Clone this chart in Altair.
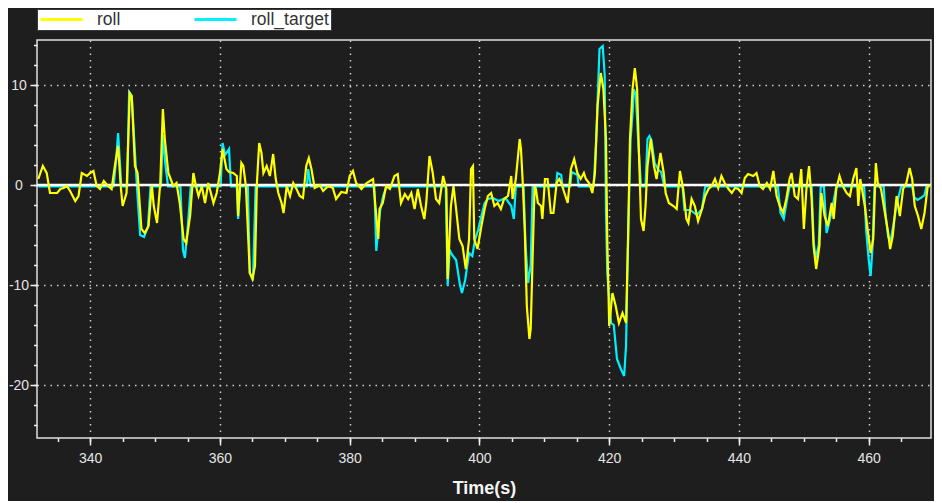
import altair as alt
import pandas as pd

# ---- data ----
roll_t = [332.0, 332.7, 333.3, 333.8, 334.9, 335.4, 335.9, 336.4, 336.9, 337.7, 338.2, 338.7, 339.5, 340.0,
          340.5, 341.0, 341.5, 342.1, 342.6, 343.3, 343.8, 344.3, 344.7, 345.0, 345.6, 346.1, 346.4, 346.9,
          347.3, 347.9, 348.4, 349.0, 349.5, 349.8, 350.3, 350.8, 351.2, 351.5, 352.05, 352.8, 353.3, 353.8,
          354.4, 354.8, 355.4, 355.9, 356.3, 356.7, 357.2, 357.7, 358.2, 359.0, 359.5, 360.0, 360.4, 361.0,
          361.4, 362.05, 362.6, 362.8, 363.3, 363.6, 364.0, 364.6, 365.0, 365.4, 365.7, 366.05, 366.4, 366.7,
          367.2, 367.7, 368.2, 368.6, 369.0, 369.5, 369.8, 370.3, 370.8, 371.3, 371.8, 372.3, 372.8, 373.3,
          373.7, 374.1, 374.6, 375.4, 375.9, 376.7, 377.4, 377.9, 378.7, 379.5, 380.0, 380.5, 381.0, 381.8,
          382.6, 383.6, 384.1, 384.4, 384.6, 385.1, 385.6, 386.2, 386.9, 387.4, 387.9, 388.5, 389.0, 389.5,
          390.0, 390.5, 391.0, 391.5, 391.8, 392.3, 392.8, 393.3, 393.8, 394.4, 394.9, 395.1, 395.6, 396.0,
          396.4, 396.9, 397.4, 397.9, 398.4, 398.7, 399.0, 399.2, 399.7, 400.3, 400.8, 401.3, 401.8, 402.3,
          402.8, 403.3, 403.8, 404.4, 404.9, 405.1, 405.6, 406.2, 406.4, 406.7, 407.0, 407.3, 407.7, 407.9,
          408.2, 408.5, 408.7, 409.0, 409.5, 409.7, 410.1, 410.5, 411.0, 411.4, 411.9, 412.3, 412.6, 413.1,
          413.6, 414.1, 414.6, 415.1, 415.6, 416.1, 416.4, 416.9, 417.4, 417.8, 418.2, 418.7, 419.1, 419.5,
          419.7, 420.0, 420.5, 421.0, 421.5, 422.05, 422.6, 422.9, 423.2, 423.6, 423.95, 424.3, 424.6, 424.9,
          425.3, 425.6, 425.9, 426.4, 426.9, 427.3, 427.9, 428.4, 428.7, 429.2, 429.9, 430.4, 430.9, 431.4,
          431.9, 432.2, 432.7, 433.2, 433.7, 434.3, 434.8, 435.3, 435.8, 436.3, 436.8, 437.3, 437.8, 438.4,
          438.9, 439.4, 439.9, 440.4, 440.9, 441.4, 442.2, 442.7, 443.2, 443.7, 444.3, 444.8, 445.3, 445.8,
          446.3, 446.8, 447.3, 447.8, 448.1, 448.6, 449.1, 449.6, 450.0, 450.4, 450.8, 451.2, 451.5, 451.9,
          452.4, 452.7, 453.2, 453.7, 454.3, 454.6, 455.0, 455.5, 456.0, 456.6, 457.1, 457.6, 458.1, 458.4,
          458.7, 459.4, 459.9, 460.3, 460.7, 461.1, 461.4, 461.9, 462.5, 463.0, 463.3, 463.7, 464.3, 464.8,
          465.3, 465.8, 466.3, 466.7, 467.1, 467.6, 468.1, 468.6, 469.1, 469.5]
roll_v = [0.6, 1.9, 1.2, -0.8, -0.8, -0.4, -0.3, -0.1, -0.6, -1.6, -1.1, 1.2, 0.9, 1.2,
          1.4, -0.1, -0.4, 0.4, 0.0, -0.4, 1.9, 3.9, -0.1, -2.1, -0.8, 9.2, 8.9, 1.9,
          1.2, -4.4, -4.8, -4.1, 0.0, -2.1, -3.8, 0.2, 7.6, 4.6, 1.2, -0.1, 0.2, -1.8,
          -5.4, -5.8, -3.1, 1.2, -0.1, -1.1, -0.1, -1.8, 0.2, -1.8, -0.8, 1.2, 3.6, 1.6,
          1.3, 1.2, 0.9, -3.1, 2.2, 1.9, -0.1, -8.8, -9.4, -8.1, 0.2, 4.2, 3.2, 1.2,
          1.9, 0.9, 3.1, 0.6, -0.8, -1.8, -2.8, -0.1, -1.1, 0.2, -0.4, -1.1, -1.3, 1.9,
          2.7, 1.6, -0.3, 0.0, -0.6, -0.1, -0.3, -1.4, -0.7, -0.8, 0.9, 1.4, 0.2, -0.4,
          0.2, 0.6, -3.1, -5.4, -2.4, -1.8, -0.1, -0.4, 0.9, 1.1, -1.8, -0.9, -1.4, -0.8,
          -2.4, -0.4, -2.1, -3.4, -1.8, 2.9, 1.2, -1.4, -1.8, 0.9, -0.4, -9.4, -2.1, -0.1,
          -2.4, -5.4, -6.1, -8.4, -5.4, 1.6, 1.9, -5.4, -6.4, -4.1, -2.4, -1.1, -0.8, -2.1,
          -1.8, -2.4, -1.4, -1.1, 0.9, -1.4, 0.6, 4.6, 3.6, -0.1, -4.8, -12.1, -15.4, -14.4,
          -7.1, -0.1, -0.4, -1.8, -2.1, -3.4, 0.6, 0.6, -2.8, -2.8, 0.2, 0.6, 0.2, -0.8,
          -1.8, 1.6, 2.6, 1.2, 0.6, 1.2, 0.6, 0.2, -0.8, 1.2, 7.9, 11.2, 9.6, 4.6,
          -5.4, -14.1, -10.8, -12.1, -13.8, -12.8, -13.8, -5.4, 4.6, 9.6, 11.7, 9.6, 2.9, -3.4,
          -4.6, -2.1, 1.9, 4.6, 1.9, 0.6, 3.2, 1.2, -0.8, -1.8, -2.1, -2.4, 1.4, -0.4,
          -3.4, -3.8, -1.4, -2.1, -3.6, -2.4, -1.1, -0.4, -0.1, 0.6, -0.3, 0.9, 0.2, -0.4,
          -0.8, -0.3, -0.4, -0.8, 0.7, 1.1, 0.9, 1.2, -0.1, -0.4, 0.2, -0.4, 1.4, -1.1,
          -2.1, -2.8, -1.4, 0.6, 1.2, -1.1, -1.4, 1.6, -4.4, -0.4, 1.9, -1.4, -6.1, -8.4,
          -6.1, -0.8, -3.1, -4.1, -1.8, -3.4, -0.4, 0.9, -0.1, -0.8, -1.1, 0.6, 1.7, -2.1,
          0.6, -2.1, -4.8, -6.8, -5.4, 2.2, 0.2, -0.4, -2.8, -4.8, -6.4, -5.1, -1.1, -3.1,
          -0.4, 0.2, 1.7, 0.6, -2.1, -3.1, -4.4, -2.8, -0.1, 0.0]

target_t = [332.0, 343.6, 344.0, 344.3, 344.6, 344.8, 345.7, 346.0, 346.4, 347.2, 347.7, 348.3, 348.9,
            349.3, 350.9, 351.2, 351.6, 352.0, 353.9, 354.3, 354.6, 355.0, 355.5, 360.1, 360.4, 360.8,
            361.4, 361.7, 362.6, 362.8, 363.1, 364.3, 364.6, 365.1, 365.5, 373.4, 373.6, 374.0, 383.8,
            384.1, 384.4, 384.7, 385.2, 385.7, 394.8, 395.1, 395.4, 395.8, 396.4, 397.0, 397.3, 397.8,
            398.4, 398.9, 399.3, 399.8, 400.3, 400.8, 401.3, 402.0, 403.0, 404.0, 404.9, 405.3, 405.6,
            406.8, 407.1, 407.5, 407.9, 408.2, 411.8, 412.0, 412.6, 412.8, 414.0, 414.2, 415.1, 415.3,
            417.6, 418.0, 418.5, 419.0, 419.3, 419.5, 419.7, 420.3, 420.7, 421.2, 421.8, 422.3, 422.6,
            422.8, 423.1, 423.3, 423.6, 423.8, 424.1, 424.5, 424.9, 425.6, 425.9, 426.2, 426.5, 427.0,
            427.6, 428.0, 428.5, 431.3, 431.6, 432.5, 433.5, 434.3, 434.8, 446.0, 446.4, 446.9, 447.4,
            447.8, 451.2, 451.5, 451.8, 452.3, 452.6, 453.1, 453.5, 454.0, 454.5, 455.0, 459.3, 459.6,
            460.0, 460.3, 460.6, 460.9, 462.3, 462.6, 463.0, 463.4, 463.8, 464.3, 465.0, 466.7, 467.0,
            467.5, 468.0, 468.6, 468.9, 469.5]
target_v = [-0.15, -0.15, 2.5, 5.2, 2.0, -0.15, -0.15, 9.3, 8.9, -0.15, -5.0, -5.2, -4.2,
            -0.15, -0.15, 5.0, 2.0, -0.15, -0.15, -6.5, -7.3, -4.5, -0.15, -0.15, 4.2, 3.0,
            3.6, -0.15, -0.15, -3.4, -0.15, -0.15, -8.8, -9.3, -0.15, -0.15, 1.6, -0.15, -0.15,
            -6.6, -4.5, -2.5, -1.0, -0.15, -0.15, -10.1, -6.5, -7.0, -7.5, -10.0, -10.8, -9.5,
            -6.8, -7.1, -5.5, -4.5, -3.1, -1.8, -1.4, -1.3, -1.6, -1.3, -2.1, -3.4, -0.15,
            -0.15, -6.0, -9.8, -8.0, -0.15, -0.15, 1.2, 1.0, -0.15, -0.15, 1.3, 1.0, -0.15,
            -0.15, 4.6, 13.6, 13.9, 11.0, -2.4, -8.8, -13.8, -14.0, -17.4, -18.4, -19.1, -16.0,
            -8.8, -0.15, 4.6, 7.2, 9.6, 9.0, 4.0, -0.15, -0.15, 4.6, 4.9, 4.5, 2.2,
            1.5, 1.3, -0.15, -0.15, -2.5, -2.5, -3.0, -2.4, -0.15, -0.15, -2.8, -3.4, -1.5,
            -0.15, -0.15, -5.5, -7.4, -6.0, -0.15, -0.15, -4.8, -3.5, -2.0, -0.15, -0.15, -4.5,
            -7.5, -9.1, -6.0, -0.15, -0.15, -3.0, -5.2, -5.5, -4.0, -2.0, -0.15, -0.15, -1.2,
            -1.5, -1.3, -1.0, -0.15, -0.15]

series_names = ["roll", "roll_target"]
series_colors = ["#ffff00", "#00f0ff"]

x_major = [340, 360, 380, 400, 420, 440, 460]
x_minor = [335, 340, 345, 350, 355, 360, 365, 370, 375, 380, 385, 390, 395, 400, 405, 410, 415,
           420, 425, 430, 435, 440, 445, 450, 455, 460, 465]
y_major = [-20, -10, 0, 10]
y_minor = [-24, -22, -20, -18, -16, -14, -12, -10, -8, -6, -4, -2, 0, 2, 4, 6, 8, 10, 12, 14]
x_domain = [331.8, 469.6]
y_domain = [-25.3, 14.5]

df_roll = pd.DataFrame({"t": roll_t, "v": roll_v, "series": series_names[0]})
df_target = pd.DataFrame({"t": target_t, "v": target_v, "series": series_names[1]})
df_zero = pd.DataFrame({"zero": [0]})

BG = "#1e1e1e"
FONT = "Liberation Sans"
LABEL = "#e4e4e4"
GRID = "#cfcfcf"

x_scale = alt.Scale(domain=x_domain, nice=False, zero=False)
y_scale = alt.Scale(domain=y_domain, nice=False, zero=False)
color_scale = alt.Scale(domain=series_names, range=series_colors)

legend = alt.Legend(title=None, orient="none", legendX=0, legendY=-31, direction="horizontal",
                    fillColor="white", strokeColor="#3a3a3a", padding=2, symbolType="stroke",
                    symbolSize=1764, symbolStrokeWidth=3, labelFontSize=17.5, labelColor="#333333",
                    labelFont=FONT, labelOffset=13, columnPadding=72, clipHeight=17)

x_axis_major = alt.Axis(values=x_major, orient="bottom", grid=True, gridDash=[1.5, 5], gridColor=GRID,
                        gridWidth=1.5, tickSize=7, tickColor="#f0f0f0", tickWidth=1.5, domain=False,
                        labelColor=LABEL, labelFontSize=14, labelFont=FONT, labelPadding=6,
                        title="Time(s)", titleFont=FONT, titleFontSize=18, titleFontWeight="bold",
                        titleColor="#f5f5f5", titlePadding=14)
y_axis_major = alt.Axis(values=y_major, orient="left", grid=True, gridDash=[1.5, 5], gridColor=GRID,
                        gridWidth=1.5, tickSize=7, tickColor="#f0f0f0", tickWidth=1.5, domain=False,
                        labelColor=LABEL, labelFontSize=14, labelFont=FONT, labelAlign="center",
                        labelBaseline="middle", labelPadding=11.5, title=None,
                        labelExpr="datum.value < 0 ? '-' + abs(datum.value) : '' + datum.value")
x_axis_minor = alt.Axis(values=x_minor, orient="bottom", grid=False, labels=False, tickSize=3.5,
                        tickColor="#f0f0f0", tickWidth=1.5, domain=False, title=None)
y_axis_minor = alt.Axis(values=y_minor, orient="left", grid=False, labels=False, tickSize=3.5,
                        tickColor="#f0f0f0", tickWidth=1.5, domain=False, title=None)

target_layer = alt.Chart(df_target).mark_line(strokeWidth=2.2).encode(
    x=alt.X("t:Q", scale=x_scale, axis=x_axis_major),
    y=alt.Y("v:Q", scale=y_scale, axis=y_axis_major),
    color=alt.Color("series:N", scale=color_scale, legend=legend),
)

zero_layer = alt.Chart(df_zero).mark_rule(color="white", strokeWidth=2.5).encode(
    y=alt.Y("zero:Q", scale=y_scale, axis=None)
)

roll_layer = alt.Chart(df_roll).mark_line(strokeWidth=2.2).encode(
    x=alt.X("t:Q", scale=x_scale, axis=x_axis_minor),
    y=alt.Y("v:Q", scale=y_scale, axis=y_axis_minor),
    color=alt.Color("series:N", scale=color_scale, legend=legend),
)

chart = alt.layer(target_layer, zero_layer, roll_layer).resolve_axis(
    x="independent", y="independent"
).properties(
    width=894, height=398,
    autosize=alt.AutoSizeParams(type="none"),
    padding={"left": 29, "top": 32, "right": 3, "bottom": 63},
    background=BG,
).configure_view(
    fill=BG, stroke="#e0e0e0", strokeWidth=1.5
)

chart.save("out.html", embed_options={"renderer": "svg", "actions": False})
